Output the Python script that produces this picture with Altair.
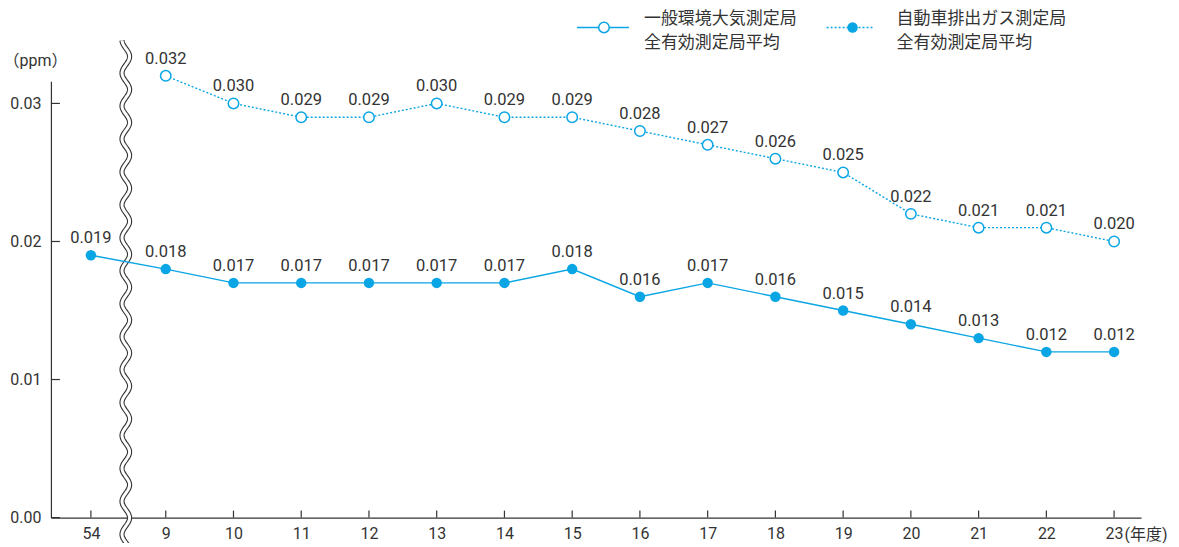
import altair as alt
import pandas as pd
import numpy as np

years = ["54", "9", "10", "11", "12", "13", "14", "15", "16", "17", "18", "19", "20", "21", "22", "23"]
ambient = [None, 0.032, 0.030, 0.029, 0.029, 0.030, 0.029, 0.029, 0.028, 0.027, 0.026, 0.025, 0.022, 0.021, 0.021, 0.020]
roadside = [0.019, 0.018, 0.017, 0.017, 0.017, 0.017, 0.017, 0.018, 0.016, 0.017, 0.016, 0.015, 0.014, 0.013, 0.012, 0.012]
y_ticks = [0.0, 0.01, 0.02, 0.03]

BLUE = "#0aa5e4"
TXT = "#333333"
FONT = "Roboto, Noto Sans CJK JP"
W, H = 1092, 437

# slot index along the axis; the first year sits a little further left across the break
GAP = 1.105
slot = [i - 1 for i in range(len(years))]
slot[0] = -GAP

amb_df = pd.DataFrame({"year": years, "x": slot, "v": ambient}).dropna()
road_df = pd.DataFrame({"year": years, "x": slot, "v": roadside})
tick_df = pd.DataFrame({"t": y_ticks})
xt_df = pd.DataFrame({"x": slot})

later = ",".join("'%s'" % y for y in years[1:])
label_expr = "datum.value < -0.5 ? '%s' : [%s][round(datum.value)]" % (years[0], later)

xs = alt.Scale(domain=[-1.695, 14.398], nice=False, zero=False)
ys = alt.Scale(domain=[0, 0.0316], nice=False, zero=True)

X = alt.X("x:Q", scale=xs, axis=None)
Y = alt.Y("v:Q", scale=ys, axis=None)

axes = alt.Chart(road_df).mark_point(opacity=0).encode(
    x=alt.X("x:Q", scale=xs, axis=alt.Axis(
        values=slot, labelExpr=label_expr,
        title="(年度)", titleX=1075, titleY=17, titleAlign="left", titleBaseline="middle",
        titleFont=FONT, titleFontSize=16, titleFontWeight="normal", titleColor=TXT,
        labelAngle=0, labelFont=FONT, labelFontSize=16, labelColor=TXT, labelPadding=8,
        labelFlush=False, labelOverlap=False, grid=False,
        ticks=False, domainColor=TXT, domainWidth=1.2)),
    y=alt.Y("v:Q", scale=ys, axis=alt.Axis(
        values=y_ticks, format=".2f", title="（ppm）", titleX=-48, titleY=-21, titleAngle=0,
        titleAlign="left", titleBaseline="middle", titleFont=FONT, titleFontSize=16,
        titleFontWeight="normal", titleColor=TXT, labelFont=FONT, labelFontSize=16,
        labelColor=TXT, labelPadding=10, ticks=False, grid=False, domainColor=TXT,
        domainWidth=1.2)),
)

yticks = alt.Chart(tick_df).mark_rule(color=TXT, strokeWidth=1.2).encode(
    y=alt.Y("t:Q", scale=ys, axis=None), x=alt.value(0), x2=alt.value(9))
xticks = alt.Chart(xt_df).mark_rule(color=TXT, strokeWidth=1.2).encode(
    x=X, y=alt.value(H - 7), y2=alt.value(H))

# wavy break (decoration)
t = np.linspace(-41, 466, 400)
wave_df = pd.DataFrame({"px": 75 + 3.8 * np.sin(2 * np.pi * t / 33), "py": t, "o": np.arange(len(t))})
wave_dark = alt.Chart(wave_df).mark_line(color=TXT, strokeWidth=5.2).encode(
    x=alt.X("px:Q", scale=None, axis=None), y=alt.Y("py:Q", scale=None, axis=None), order="o:Q")
wave_white = alt.Chart(wave_df).mark_line(color="white", strokeWidth=3).encode(
    x=alt.X("px:Q", scale=None, axis=None), y=alt.Y("py:Q", scale=None, axis=None), order="o:Q")

amb_line = alt.Chart(amb_df).mark_line(color=BLUE, strokeWidth=1.4, strokeDash=[2, 2]).encode(x=X, y=Y)
amb_pts = alt.Chart(amb_df).mark_point(shape="circle", size=110, filled=True, fill="white",
                                        stroke=BLUE, strokeWidth=1.5, opacity=1).encode(x=X, y=Y)
amb_txt = alt.Chart(amb_df).mark_text(dy=-17, font=FONT, fontSize=16.5, color=TXT).encode(
    x=X, y=Y, text=alt.Text("v:Q", format=".3f"))

road_line = alt.Chart(road_df).mark_line(color=BLUE, strokeWidth=1.4).encode(x=X, y=Y)
road_pts = alt.Chart(road_df).mark_point(shape="circle", size=110, filled=True, color=BLUE,
                                          opacity=1).encode(x=X, y=Y)
road_txt = alt.Chart(road_df).mark_text(dy=-17, font=FONT, fontSize=16.5, color=TXT).encode(
    x=X, y=Y, text=alt.Text("v:Q", format=".3f"))

# legend (decoration)
one = pd.DataFrame({"a": [0]})
leg1_line = alt.Chart(one).mark_rule(color=BLUE, strokeWidth=1.4).encode(
    x=alt.value(527), x2=alt.value(579), y=alt.value(-54))
leg1_pt = alt.Chart(one).mark_point(shape="circle", size=110, filled=True, fill="white",
                                     stroke=BLUE, strokeWidth=1.5, opacity=1).encode(
    x=alt.value(554), y=alt.value(-54))
leg1_txt = alt.Chart(one).mark_text(align="left", baseline="middle", font="Noto Sans CJK JP",
                                     fontSize=17, color=TXT, lineHeight=24,
                                     text=["一般環境大気測定局", "全有効測定局平均"]).encode(
    x=alt.value(594), y=alt.value(-62))
leg2_line = alt.Chart(one).mark_rule(color=BLUE, strokeWidth=1.4, strokeDash=[2, 2]).encode(
    x=alt.value(777), x2=alt.value(824), y=alt.value(-54))
leg2_pt = alt.Chart(one).mark_point(shape="circle", size=110, filled=True, color=BLUE,
                                     opacity=1).encode(x=alt.value(803), y=alt.value(-54))
leg2_txt = alt.Chart(one).mark_text(align="left", baseline="middle", font="Noto Sans CJK JP",
                                     fontSize=17, color=TXT, lineHeight=24,
                                     text=["自動車排出ガス測定局", "全有効測定局平均"]).encode(
    x=alt.value(847), y=alt.value(-62))

chart = alt.layer(
    axes, yticks, xticks, wave_dark, wave_white,
    amb_line, road_line, amb_pts, road_pts, amb_txt, road_txt,
    leg1_line, leg1_pt, leg1_txt, leg2_line, leg2_pt, leg2_txt,
).resolve_scale(x="independent", y="independent").properties(
    width=W, height=H,
    background="white",
    autosize=alt.AutoSizeParams(type="none"),
    padding={"left": 43, "top": 73, "right": 30, "bottom": 25},
).configure_view(stroke=None)

chart.save("out.html", embed_options={"renderer": "svg", "actions": False})
